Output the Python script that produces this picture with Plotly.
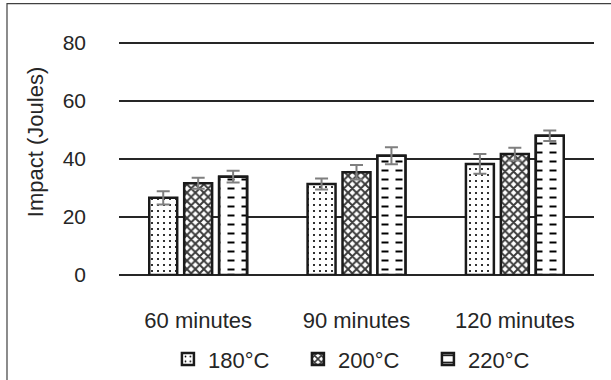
import plotly.graph_objects as go

categories = ["60 minutes", "90 minutes", "120 minutes"]
series_names = ["180°C", "200°C", "220°C"]
vals_180 = [26.6, 31.4, 38.3]
vals_200 = [31.6, 35.4, 41.7]
vals_220 = [33.9, 41.1, 48.0]
err_180 = [2.3, 1.9, 3.4]
err_200 = [1.9, 2.5, 2.2]
err_220 = [2.0, 2.9, 1.8]
y_ticks = [0, 20, 40, 60, 80]

FONT = "Liberation Sans, Arial, sans-serif"
err_style = dict(type="data", visible=True, color="#7f7f7f", thickness=2, width=6.5)

fig = go.Figure()
fig.add_trace(go.Bar(
    name=series_names[0], x=categories, y=vals_180, offsetgroup="a",
    marker=dict(color="white", line=dict(color="#1a1a1a", width=2.5),
                pattern=dict(shape=".", fgcolor="black", bgcolor="white", fgopacity=1,
                             size=6, solidity=0.1)),
    error_y=dict(array=err_180, **err_style),
))
fig.add_trace(go.Bar(
    name=series_names[1], x=categories, y=vals_200, offsetgroup="b",
    marker=dict(color="white", line=dict(color="#1a1a1a", width=2.5),
                pattern=dict(shape="x", fgcolor="#3a3a3a", bgcolor="white", fgopacity=1,
                             size=6, solidity=0.55)),
    error_y=dict(array=err_200, **err_style),
))
fig.add_trace(go.Bar(
    name=series_names[2], x=categories, y=vals_220, offsetgroup="c",
    marker=dict(color="white", line=dict(color="#1a1a1a", width=2.5),
                pattern=dict(shape="-", fgcolor="black", bgcolor="white", fgopacity=1,
                             size=9, solidity=0.22)),
))
# overlay that breaks the horizontal lines into dashes
fig.add_trace(go.Bar(
    name=series_names[2], x=categories, y=vals_220, offsetgroup="c", showlegend=False,
    hoverinfo="skip",
    marker=dict(color="rgba(0,0,0,0)", line=dict(color="#1a1a1a", width=2.5),
                pattern=dict(shape="|", fgcolor="white", bgcolor="rgba(0,0,0,0)", fgopacity=1,
                             size=14, solidity=0.5)),
    error_y=dict(array=err_220, **err_style),
))

fig.update_layout(
    width=611, height=380,
    margin=dict(l=119, r=17, t=40, b=105, autoexpand=False),
    paper_bgcolor="white", plot_bgcolor="white",
    barmode="group", bargap=0.338, bargroupgap=0.2,
    font=dict(family=FONT, size=22, color="#262626"),
    showlegend=True,
    legend=dict(orientation="h", x=0.103, xanchor="left", y=-0.358, yanchor="middle",
                entrywidth=85, entrywidthmode="pixels",
                font=dict(family=FONT, size=22, color="#262626")),
    xaxis=dict(showgrid=False, showline=False, ticks="", ticklabelstandoff=30,
               tickfont=dict(family=FONT, size=22, color="#262626")),
    yaxis=dict(range=[0, 81], tickvals=y_ticks, showgrid=True, gridcolor="#262626", gridwidth=2,
               zeroline=True, zerolinecolor="#262626", zerolinewidth=2, showline=False,
               ticks="", ticklabelstandoff=32,
               tickfont=dict(family=FONT, size=21, color="#262626")),
    annotations=[dict(text="Impact (Joules)", textangle=-90, xref="paper", yref="paper",
                      x=-0.177, y=0.565, xanchor="center", yanchor="middle", showarrow=False,
                      font=dict(family=FONT, size=22, color="#262626"))],
    shapes=[dict(type="rect", xref="paper", yref="paper", x0=-0.2358, x1=1.2, y0=-0.6, y1=1.155,
                 line=dict(color="#404040", width=1.2), fillcolor="rgba(0,0,0,0)", layer="below")],
)

fig.write_html("out.html")
